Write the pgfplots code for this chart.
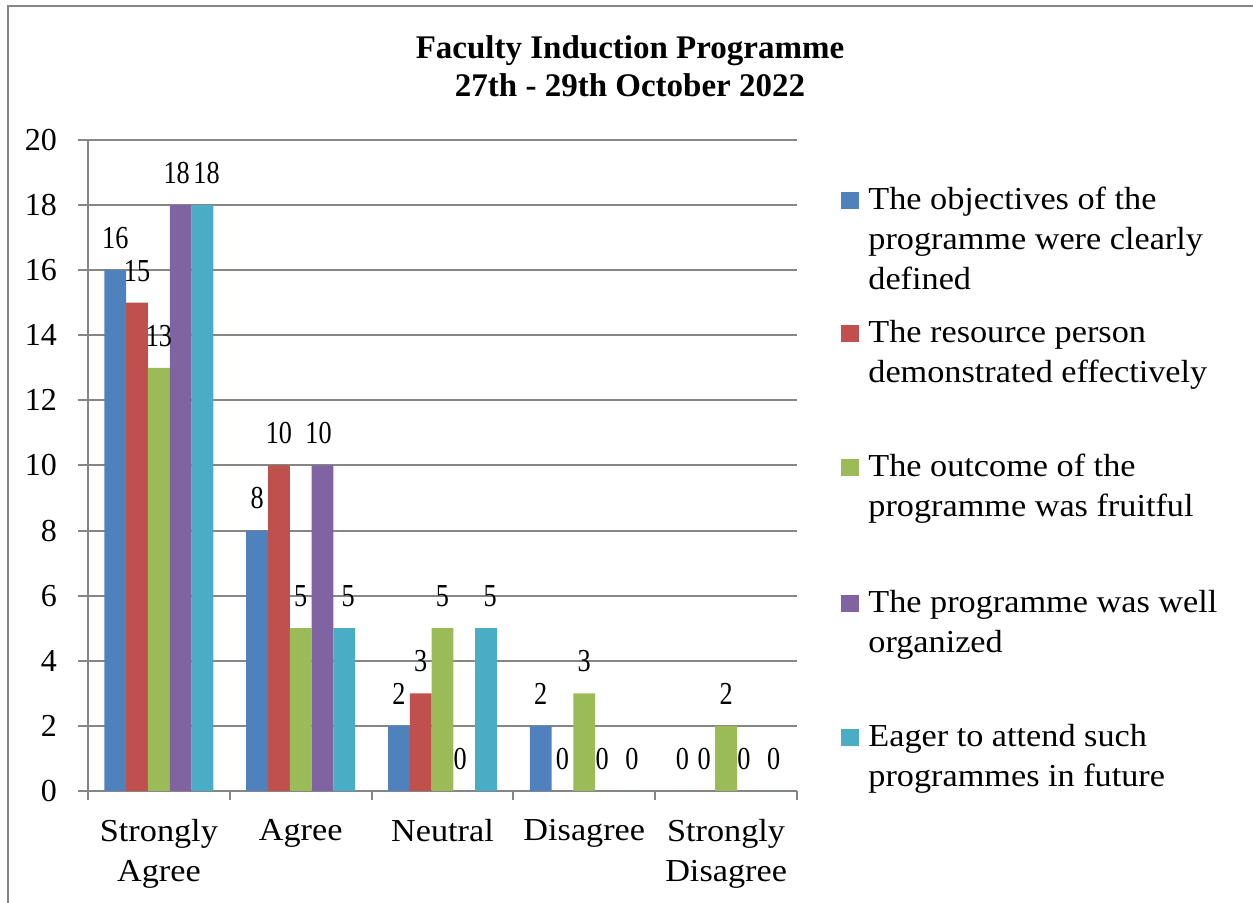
\documentclass[border=0pt]{standalone}
\usepackage{pgfplots}
\pgfplotsset{compat=1.18}
\usepackage{fontspec}
\setmainfont{Liberation Serif}
\newfontfamily\wideserif[FakeStretch=1.07]{Liberation Serif}
\newfontfamily\narrowserif[FakeStretch=0.82]{Liberation Serif}
\definecolor{c1}{HTML}{4F81BD}
\definecolor{c2}{HTML}{C0504D}
\definecolor{c3}{HTML}{9BBB59}
\definecolor{c4}{HTML}{8064A2}
\definecolor{c5}{HTML}{4BACC6}
\definecolor{axgray}{HTML}{868686}
\newcommand{\lf}{\fontsize{16}{20}\selectfont}
\begin{document}
\begin{tikzpicture}
\begin{axis}[
  at={(0,0)}, anchor=south west,
  scale only axis, width=354.5pt, height=325.5pt,
  xmin=-0.5, xmax=4.5, ymin=0, ymax=20, enlargelimits=false,
  ybar=0pt, bar width=10.9pt,
  xtick={0,1,2,3,4},
  xticklabels={{Strongly\\Agree},Agree,Neutral,Disagree,{Strongly\\Disagree}},
  minor xtick={-0.5,0.5,1.5,2.5,3.5,4.5},
  major x tick style={draw=none},
  minor x tick style={axgray, line width=1pt},
  ytick={0,2,...,20},
  y tick style={axgray, line width=1pt},
  ymajorgrids, grid style={axgray, line width=1pt},
  tick align=outside, major tick length=5pt, minor tick length=4.5pt,
  axis x line*=bottom, axis y line*=left,
  axis line style={axgray, line width=1pt, -},
  tick label style={font=\lf, text=black},
  xticklabel style={align=center, font=\wideserif\lf, yshift=-5.5pt},
  yticklabel style={xshift=-7pt},
  /pgf/number format/assume math mode=true,
  nodes near coords,
  every node near coord/.append style={font=\narrowserif\lf, text=black, anchor=south, inner sep=0pt, yshift=10.5pt},
  clip=false,
]
\addplot[fill=c1, draw=none] coordinates {(0,16) (1,8) (2,2) (3,2) (4,0)};
\addplot[fill=c2, draw=none] coordinates {(0,15) (1,10) (2,3) (3,0) (4,0)};
\addplot[fill=c3, draw=none] coordinates {(0,13) (1,5) (2,5) (3,3) (4,2)};
\addplot[fill=c4, draw=none, every node near coord/.append style={xshift=-2pt}] coordinates {(0,18) (1,10) (2,0) (3,0) (4,0)};
\addplot[fill=c5, draw=none, every node near coord/.append style={xshift=2pt}] coordinates {(0,18) (1,5) (2,5) (3,0) (4,0)};
\coordinate (O) at (rel axis cs:0,0);
\end{axis}
\begin{scope}[shift={(O)}]
\begin{scope}[x=0.5pt, y=-0.5pt, shift={(-88,-791)}]
\pgfresetboundingbox
\path[use as bounding box] (0,0) rectangle (1253,903);
\draw[axgray, line width=1pt] (8,920) -- (8,6) -- (1270,6);
\node[font=\bfseries\fontsize{16.5}{19}\selectfont, align=center] at (630,66) {Faculty Induction Programme\\27th - 29th October 2022};
\fill[c1] (841,192) rectangle (859,209);
\node[anchor=base west, inner sep=0pt, font=\wideserif\lf] at (868,210) {\parbox[t]{200pt}{\raggedright The objectives of the\\programme were clearly\\defined}};
\fill[c2] (841,325) rectangle (859,342);
\node[anchor=base west, inner sep=0pt, font=\wideserif\lf] at (868,343) {\parbox[t]{200pt}{\raggedright The resource person\\demonstrated effectively}};
\fill[c3] (841,459) rectangle (859,476);
\node[anchor=base west, inner sep=0pt, font=\wideserif\lf] at (868,477) {\parbox[t]{200pt}{\raggedright The outcome of the\\programme was fruitful}};
\fill[c4] (841,595) rectangle (859,612);
\node[anchor=base west, inner sep=0pt, font=\wideserif\lf] at (868,613) {\parbox[t]{200pt}{\raggedright The programme was well\\organized}};
\fill[c5] (841,729) rectangle (859,746);
\node[anchor=base west, inner sep=0pt, font=\wideserif\lf] at (868,747) {\parbox[t]{200pt}{\raggedright Eager to attend such\\programmes in future}};
\end{scope}
\end{scope}
\end{tikzpicture}
\end{document}
